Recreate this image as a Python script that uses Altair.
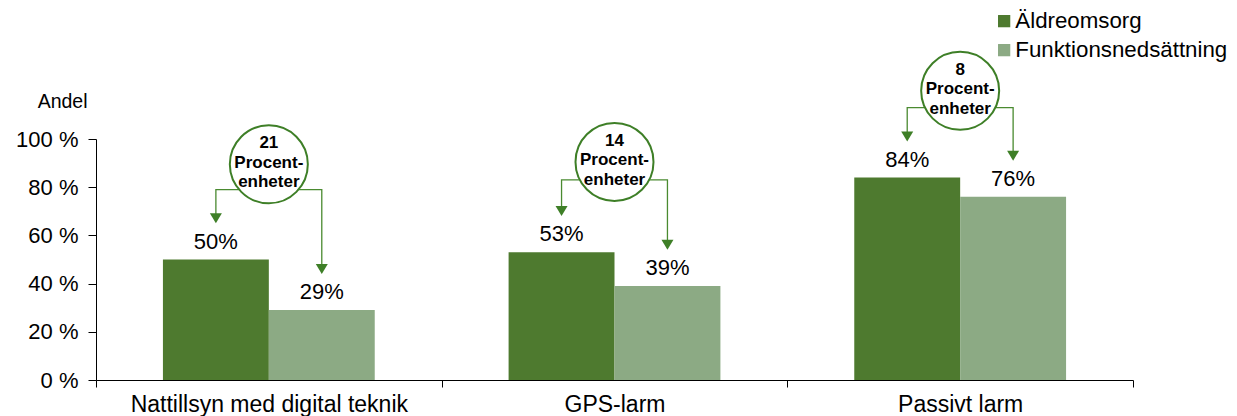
import altair as alt
import pandas as pd

categories = ["Nattillsyn med digital teknik", "GPS-larm", "Passivt larm"]
series = ["Äldreomsorg", "Funktionsnedsättning"]
aldre = [50, 53, 84]
funk = [29, 39, 76]
colors = ["#4E7A2F", "#8CAA84"]

# annotation levels (in percent units)
connector_level = [79, 83, 113]
circle_level = [89.5, 90.5, 120]
tip_gap = 15

rows = []
for c, a, f in zip(categories, aldre, funk):
    rows.append({"cat": c, "series": series[0], "value": a, "label": f"{a}%"})
    rows.append({"cat": c, "series": series[1], "value": f, "label": f"{f}%"})
bars_df = pd.DataFrame(rows)

conn_rows = []
arrow_rows = []
for i, (c, a, f) in enumerate(zip(categories, aldre, funk)):
    h = connector_level[i]
    conn_rows += [
        {"cat": c, "series": series[0], "y": a + tip_gap + 2, "o": 0},
        {"cat": c, "series": series[0], "y": h, "o": 1},
        {"cat": c, "series": series[1], "y": h, "o": 2},
        {"cat": c, "series": series[1], "y": f + tip_gap + 2, "o": 3},
    ]
    arrow_rows += [
        {"cat": c, "series": series[0], "y": a + tip_gap},
        {"cat": c, "series": series[1], "y": f + tip_gap},
    ]
conn_df = pd.DataFrame(conn_rows)
arrow_df = pd.DataFrame(arrow_rows)
circ_df = pd.DataFrame({
    "cat": categories,
    "y": circle_level,
    "txt": [f"{a - f}\nProcent-\nenheter" for a, f in zip(aldre, funk)],
})

FONT = "Liberation Sans"

x_enc = alt.X("cat:N", sort=categories, title=None,
              scale=alt.Scale(paddingInner=0, paddingOuter=0),
              axis=alt.Axis(tickBand="extent", labelAngle=0, labelFontSize=23,
                            labelFont=FONT, labelColor="#000", domainColor="#000",
                            tickColor="#000", tickSize=7, labelPadding=6,
                            labelLimit=0))
xo_enc = alt.XOffset("series:N", sort=series,
                     scale=alt.Scale(paddingInner=0, paddingOuter=0.632))
y_enc = alt.Y("value:Q", scale=alt.Scale(domain=[0, 100]), title="Andel",
              axis=alt.Axis(values=[0, 20, 40, 60, 80, 100],
                            labelExpr="datum.value + ' %'", grid=False,
                            labelFontSize=22, labelFont=FONT, labelColor="#000",
                            domainColor="#000", tickColor="#000", tickSize=8,
                            titleAngle=0, titleX=-9, titleY=-28, titleAlign="right",
                            titleFontSize=19.5, titleFont=FONT, titleFontWeight="normal",
                            titleColor="#000", labelPadding=10))

base = alt.Chart(bars_df)
bars = base.mark_bar().encode(
    x=x_enc, xOffset=xo_enc, y=y_enc,
    color=alt.Color("series:N", sort=series,
                    scale=alt.Scale(domain=series, range=colors),
                    legend=alt.Legend(title=None, orient="none", legendX=897, legendY=-129,
                                      labelFontSize=22.3, labelFont=FONT, labelColor="#000",
                                      symbolType="square", symbolSize=150, labelLimit=0,
                                      symbolStrokeWidth=0, rowPadding=6, labelOffset=0)),
)
labels = base.mark_text(dy=-11, baseline="alphabetic", fontSize=22, font=FONT,
                        color="#000").encode(
    x=alt.X("cat:N", sort=categories), xOffset=alt.XOffset("series:N", sort=series),
    y="value:Q", text="label:N")

conn = alt.Chart(conn_df).mark_line(color="#4a8a30", strokeWidth=1.3).encode(
    x=alt.X("cat:N", sort=categories), xOffset=alt.XOffset("series:N", sort=series),
    y=alt.Y("y:Q"), order="o:Q", detail="cat:N")

arrows = alt.Chart(arrow_df).mark_point(
    shape="M-0.6,-1L0.6,-1L0,0Z", size=400, filled=True, color="#3E7F27",
    opacity=1).encode(
    x=alt.X("cat:N", sort=categories), xOffset=alt.XOffset("series:N", sort=series),
    y=alt.Y("y:Q"))

circles = alt.Chart(circ_df).mark_point(
    shape="circle", size=6084, filled=True, fill="white", stroke="#3E7F27",
    strokeWidth=2, opacity=1, fillOpacity=1, strokeOpacity=1).encode(
    x=alt.X("cat:N", sort=categories), y=alt.Y("y:Q"))

circ_text = alt.Chart(circ_df).mark_text(
    fontSize=17, fontWeight="bold", font=FONT, color="#000", lineBreak="\n",
    lineHeight=19.5, baseline="middle", dy=-21).encode(
    x=alt.X("cat:N", sort=categories), y=alt.Y("y:Q"), text="txt:N")

chart = alt.layer(bars, labels, conn, arrows, circles, circ_text).properties(
    width=1037, height=241,
    autosize=alt.AutoSizeParams(type="none"),
    padding={"left": 88, "top": 131, "right": 96, "bottom": 37},
).configure_view(stroke=None)

chart.save("out.html", embed_options={"renderer": "svg", "actions": False})
